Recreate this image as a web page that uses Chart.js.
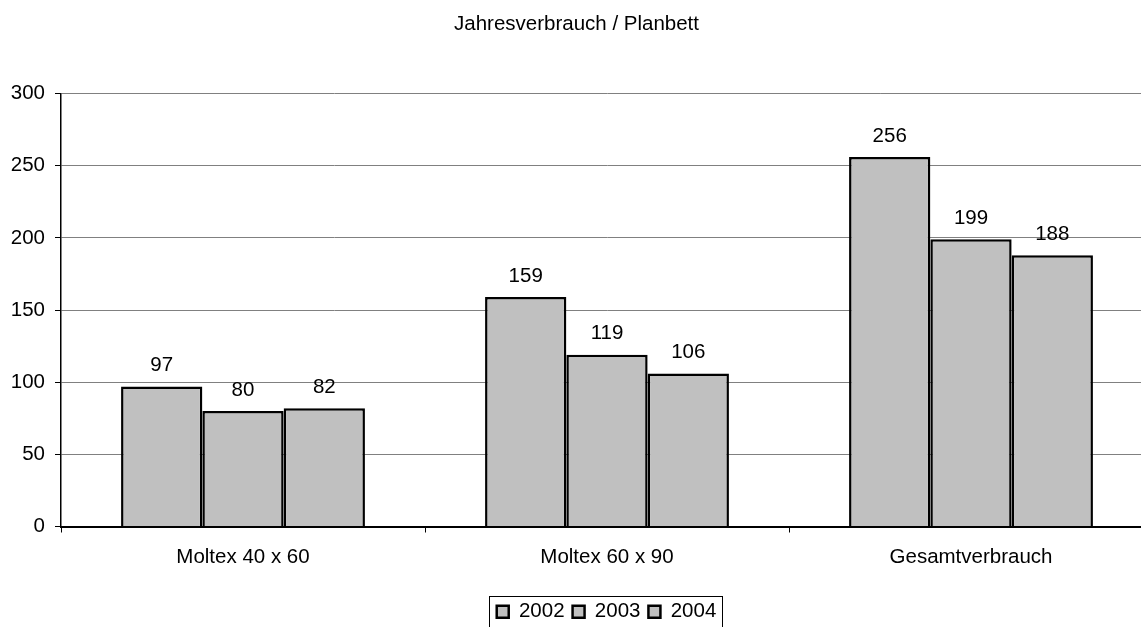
<!DOCTYPE html>
<html>
<head>
<meta charset="utf-8">
<script src="https://cdn.jsdelivr.net/npm/chart.js@4"></script>
<style>
  html, body { margin: 0; padding: 0; background: #fff; overflow: hidden; }
  #chart { display: block; }
</style>
</head>
<body>
<canvas id="chart" width="1160" height="640"></canvas>
<script>
const categories = ['Moltex 40 x 60', 'Moltex 60 x 90', 'Gesamtverbrauch'];
const years = ['2002', '2003', '2004'];
const values2002 = [97, 159, 256];
const values2003 = [80, 119, 199];
const values2004 = [82, 106, 188];
const yMin = 0;
const yMax = 300;
const yStep = 50;

const FONT = { family: '"Liberation Sans", Arial, sans-serif', size: 20.5 };

// Zahlen über die Balken schreiben
const valueLabels = {
    id: 'valueLabels',
    afterDatasetsDraw(chart) {
        const ctx = chart.ctx;
        ctx.save();
        ctx.font = `${FONT.size}px ${FONT.family}`;
        ctx.fillStyle = '#000';
        ctx.textAlign = 'center';
        ctx.textBaseline = 'middle';
        chart.data.datasets.forEach((ds, i) => {
            chart.getDatasetMeta(i).data.forEach((bar, j) => {
                ctx.fillText(ds.data[j], bar.x, bar.y - 21);
            });
        });
        ctx.restore();
    }
};

// Legende etwas verschieben und mit Rahmen versehen
const legendFrame = {
    id: 'legendFrame',
    afterLayout(chart) {
        chart.legend.left += 30;
        chart.legend.right += 30;
    },
    afterDraw(chart) {
        const boxes = chart.legend.legendHitBoxes;
        if (!boxes || !boxes.length) return;
        const first = boxes[0];
        const last = boxes[boxes.length - 1];
        const x1 = Math.round(first.left - 8) + 0.5;
        const x2 = Math.round(last.left + last.width + 6) + 0.5;
        const y1 = Math.round(first.top + first.height / 2 - 16) + 0.5;
        const ctx = chart.ctx;
        ctx.save();
        ctx.strokeStyle = '#000';
        ctx.lineWidth = 1;
        ctx.strokeRect(x1, y1, x2 - x1, chart.height + 10 - y1);
        ctx.restore();
    }
};

function makeDataset(label, data) {
    return {
        label: label,
        data: data,
        backgroundColor: '#c0c0c0',
        borderColor: '#000',
        borderWidth: 2.5,
        borderSkipped: 'bottom',
        inflateAmount: 0,
        categoryPercentage: 0.67,
        barPercentage: 1
    };
}

const ctx = document.getElementById('chart').getContext('2d');
new Chart(ctx, {
    type: 'bar',
    data: {
        labels: categories,
        datasets: [
            makeDataset(years[0], values2002),
            makeDataset(years[1], values2003),
            makeDataset(years[2], values2004)
        ]
    },
    options: {
        responsive: false,
        animation: false,
        layout: { padding: { left: 0, right: 7, top: 0, bottom: 8 } },
        plugins: {
            title: {
                display: true,
                text: 'Jahresverbrauch / Planbett',
                color: '#000',
                font: { family: FONT.family, size: 20.5, weight: 'normal' },
                padding: { top: 12, bottom: 57 }
            },
            legend: {
                position: 'bottom',
                labels: {
                    color: '#000',
                    font: FONT,
                    boxWidth: 12,
                    boxHeight: 12,
                    padding: 8
                }
            },
            tooltip: { enabled: false }
        },
        scales: {
            x: {
                grid: {
                    display: true,
                    drawOnChartArea: false,
                    offset: true,
                    color: '#000',
                    tickLength: 6
                },
                border: { color: '#000', width: 2 },
                ticks: { color: '#000', font: FONT, padding: 13 },
                afterFit(scale) { scale.height = 67; }
            },
            y: {
                min: yMin,
                max: yMax,
                grid: { color: '#808080', tickColor: '#000', tickLength: 6 },
                border: { color: '#000', width: 1.5 },
                ticks: { stepSize: yStep, color: '#000', font: FONT, padding: 10 },
                afterFit(scale) { scale.width = 61; }
            }
        }
    },
    plugins: [valueLabels, legendFrame]
});
</script>
</body>
</html>
